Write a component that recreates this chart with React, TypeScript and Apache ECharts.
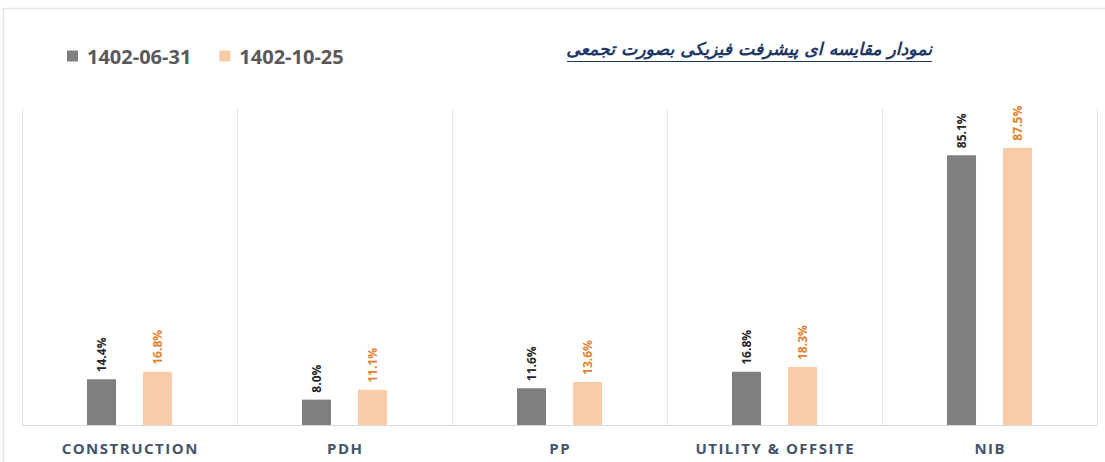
import React, { useEffect, useRef } from "react";
import * as echarts from "echarts";

const categories = ["CONSTRUCTION", "PDH", "PP", "UTILITY & OFFSITE", "NIB"];
const seriesNames = ["1402-06-31", "1402-10-25"];
const valuesFirst = [14.4, 8.0, 11.6, 16.8, 85.1];
const valuesSecond = [16.8, 11.1, 13.6, 18.3, 87.5];
const titleText = "نمودار مقایسه ای پیشرفت فیزیکی بصورت تجمعی";

export default function App() {
  const ref = useRef<HTMLDivElement>(null);
  useEffect(() => {
    if (!ref.current) return;
    const chart = echarts.init(ref.current, null, { renderer: "svg" });
    const labelCommon = {
      show: true,
      position: "top" as const,
      rotate: 90,
      align: "left" as const,
      verticalAlign: "middle" as const,
      distance: 7,
      fontSize: 12,
      fontWeight: "bold" as const,
      fontFamily: "Open Sans",
      formatter: (p: any) => Number(p.value).toFixed(1) + "%",
    };
    chart.setOption({
      animation: false,
      backgroundColor: "#ffffff",
      grid: { left: 22, right: 8, top: 108, bottom: 37, containLabel: false },
      legend: {
        left: 62,
        top: 41,
        itemWidth: 11,
        itemHeight: 11,
        itemGap: 28,
        icon: "rect",
        textStyle: { fontSize: 20, fontWeight: "bold", color: "#595959", fontFamily: "Open Sans", padding: [0, 0, 0, 4] },
        data: seriesNames,
      },
      xAxis: {
        type: "category",
        data: categories,
        axisLine: { lineStyle: { color: "#d9d9d9", width: 1 } },
        axisTick: { show: false },
        splitLine: { show: true, lineStyle: { color: "#e6e6e6", width: 1 } },
        axisLabel: {
          color: "#44546A",
          fontSize: 15,
          fontWeight: "bold",
          fontFamily: "Open Sans",
          margin: 15,
          formatter: (v: string) => v.split("").join("\u200A"),
        },
      },
      yAxis: {
        type: "value",
        min: 0,
        max: 100,
        show: false,
        splitLine: { show: false },
      },
      series: [
        {
          name: seriesNames[0],
          type: "bar",
          data: valuesFirst,
          barWidth: 29,
          barGap: "93%",
          itemStyle: { color: "#7F7F7F" },
          label: { ...labelCommon, color: "#262626" },
        },
        {
          name: seriesNames[1],
          type: "bar",
          data: valuesSecond,
          barWidth: 29,
          itemStyle: { color: "#F9CBA7" },
          label: { ...labelCommon, color: "#E2822F" },
        },
      ],
      graphic: [
        {
          type: "rect",
          shape: { x: 3.5, y: 8.5, width: 1110, height: 470 },
          style: { fill: "none", stroke: "#e3e3e3", lineWidth: 1.5 },
          silent: true,
        },
        {
          type: "text",
          right: 1105 - 932,
          top: 40,
          style: {
            text: titleText,
            fill: "#1F3864",
            font: "italic bold 17.3px 'DejaVu Sans'",
            align: "right",
          },
        },
        {
          type: "line",
          shape: { x1: 567, y1: 61.5, x2: 932, y2: 61.5 },
          style: { stroke: "#1F3864", lineWidth: 1.2 },
        },
      ],
    });
    return () => chart.dispose();
  }, []);
  return <div ref={ref} style={{ width: 1105, height: 462, position: "absolute", left: 0, top: 0 }} />;
}
